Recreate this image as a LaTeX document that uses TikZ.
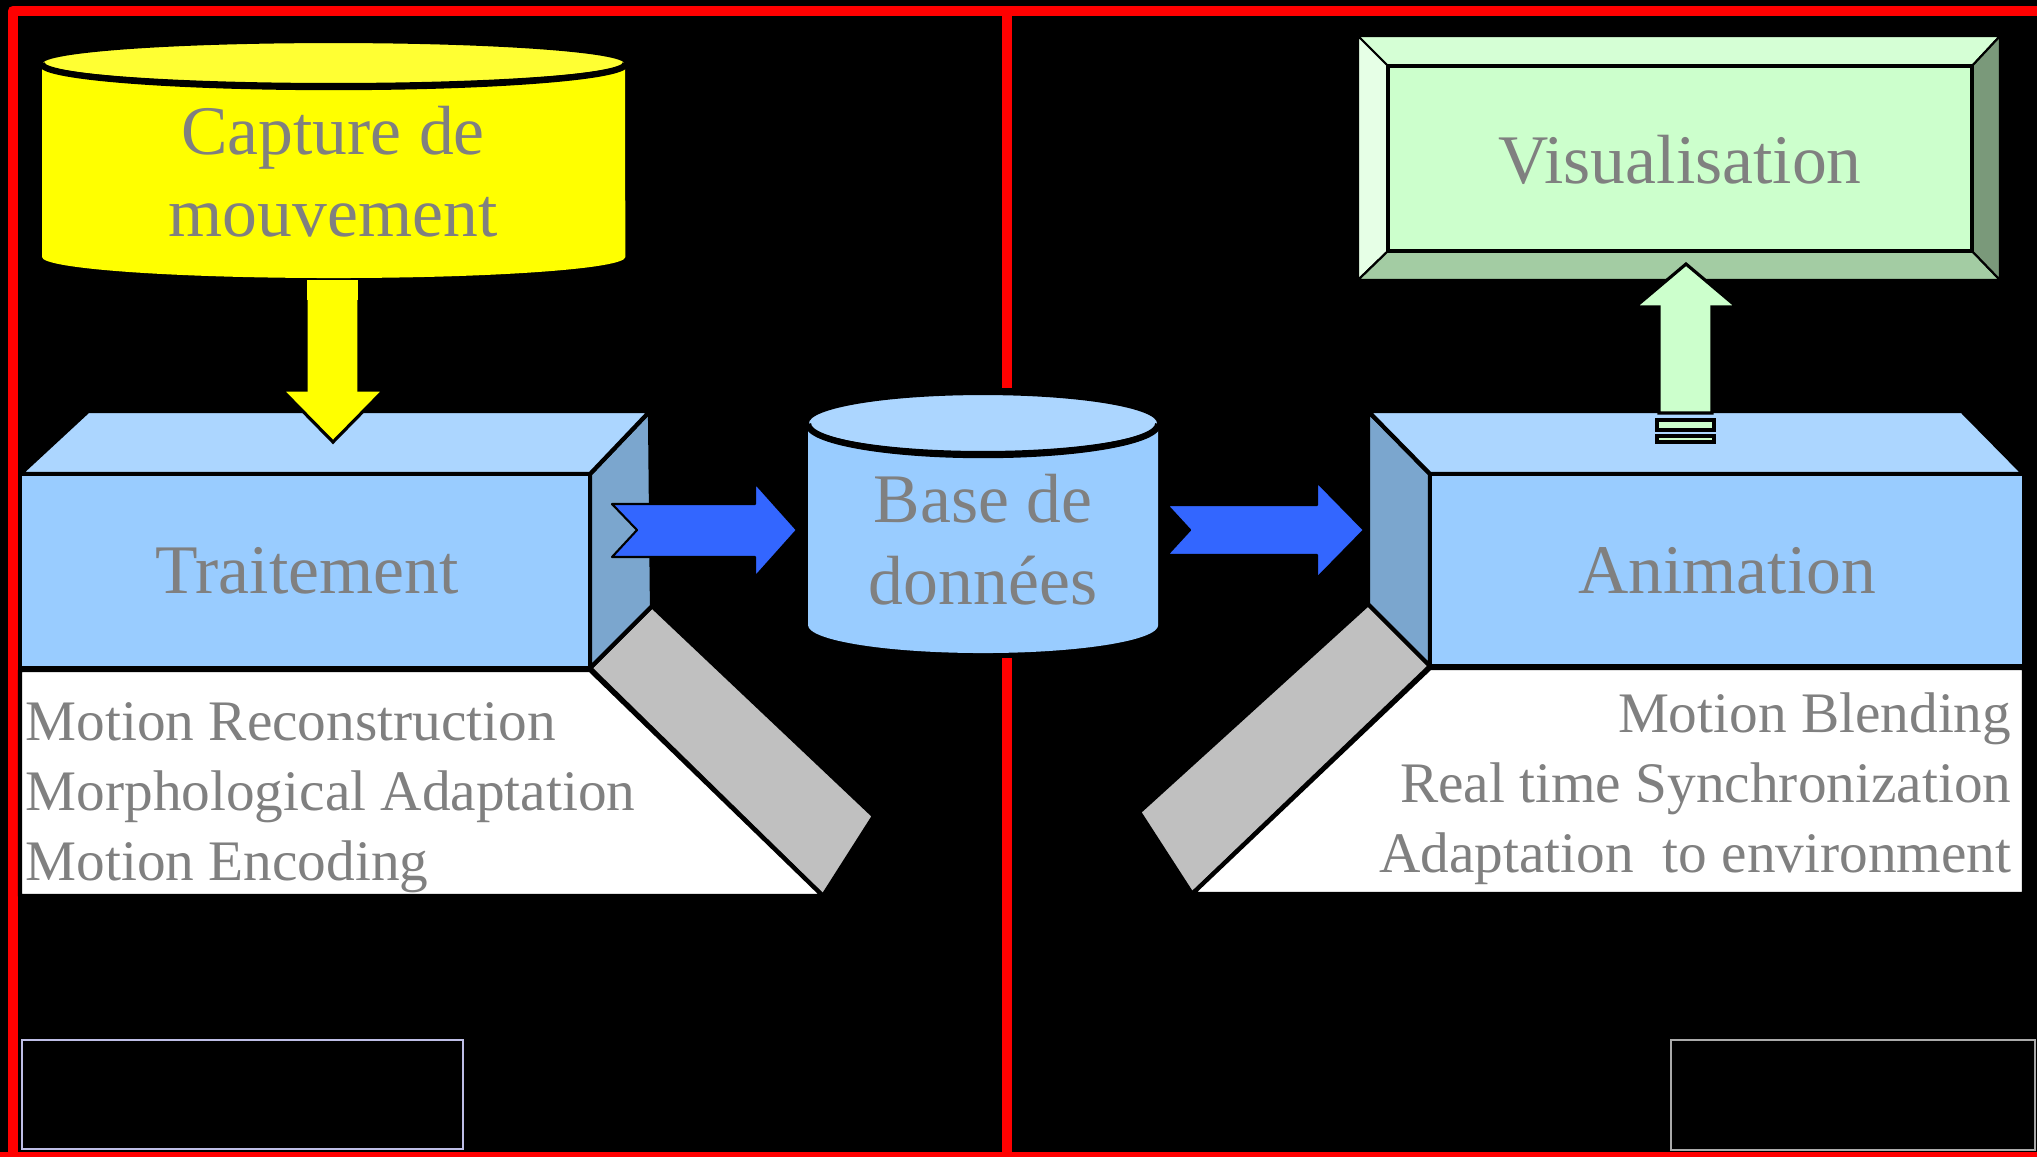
\documentclass[tikz,border=0pt]{standalone}
\usepackage{fontspec}
\setmainfont{Liberation Serif}
\definecolor{bxfront}{RGB}{153,204,255}
\definecolor{bxtop}{RGB}{172,214,255}
\definecolor{bxside}{RGB}{123,166,206}
\definecolor{flapgray}{RGB}{192,192,192}
\definecolor{arrblue}{RGB}{51,102,255}
\definecolor{capyel}{RGB}{255,255,0}
\definecolor{capyeltop}{RGB}{255,255,51}
\definecolor{txtgray}{RGB}{128,128,128}
\definecolor{vgreen}{RGB}{204,255,204}
\definecolor{vtopc}{RGB}{213,255,213}
\definecolor{vleft}{RGB}{230,255,230}
\definecolor{vbot}{RGB}{163,204,163}
\definecolor{vright}{RGB}{122,153,122}
\definecolor{rectlav}{RGB}{190,190,230}
\definecolor{rectgray}{RGB}{170,170,170}
\begin{document}
\begin{tikzpicture}[x=0.01cm,y=-0.01cm,
  lbl/.style={text=txtgray, font=\fontsize{19.8}{23.4}\selectfont, align=center, inner sep=0pt},
  lst/.style={text=txtgray, font=\fontsize{16.3}{19.9}\selectfont, inner sep=0pt},
  bxline/.style={draw=black, line width=1.2pt, line join=round},
  thinline/.style={draw=black, line width=0.6pt, line join=round},
  redline/.style={draw=red, line width=3.1pt, line join=round}]
% background
\fill[black] (0,0) rectangle (2037,1156);
\useasboundingbox (0,0) rectangle (2037,1156);
% red frame
\draw[redline] (13,1160) -- (13,11) -- (2045,11);
\draw[redline] (0,1157) -- (2045,1157);
\draw[redline] (1007,11) -- (1007,388);
\draw[redline] (1007,658) -- (1007,1160);

% ---- Capture de mouvement cylinder
\fill[capyel] (42,63) -- (42,257) arc[start angle=180,end angle=360,x radius=2.915cm,y radius=0.21cm] -- (625,63) -- cycle;
\filldraw[fill=capyeltop, draw=black, line width=0.6pt] (333.5,63) ellipse[x radius=2.915cm, y radius=0.21cm];
\draw[black, line width=1.8pt] (42,64) arc[start angle=180,end angle=360,x radius=2.915cm,y radius=0.23cm];
\node[lbl] (capture) at (333,172) {Capture de\\mouvement};

% ---- Traitement box
\filldraw[fill=flapgray, bxline] (590,668) -- (652,606) -- (874,816) -- (823,896) -- cycle;
\filldraw[fill=white, bxline] (20,670) -- (590,670) -- (823,896) -- (20,896) -- cycle;
\filldraw[fill=bxside, bxline] (590,474) -- (650,411) -- (652,606) -- (590,668) -- cycle;
\filldraw[fill=bxtop, bxline] (20,474) -- (88,411) -- (650,411) -- (590,474) -- cycle;
\filldraw[fill=bxfront, bxline] (20,474) rectangle (590,668);
\node[lbl, anchor=base] (traitement) at (307,593) {Traitement};
\node[lst, anchor=base west, align=left] (listL) at (25,880) {Motion Reconstruction\\Morphological Adaptation\\Motion Encoding};

% yellow arrow
\filldraw[fill=capyel, draw=black, line width=0.9pt, line join=miter]
  (306,284) -- (359,284) -- (359,390) -- (384,390) -- (333,442) -- (282,390) -- (306,390) -- cycle;
\fill[capyel] (307,280) rectangle (358,300);

% ---- blue arrows
\filldraw[fill=arrblue, thinline] (612,504) -- (755,504) -- (755,483) -- (797,530) -- (755,577) -- (755,557) -- (612,557) -- (637,530) -- cycle;
\filldraw[fill=arrblue, thinline] (1167,505) -- (1317,505) -- (1317,482) -- (1364,530) -- (1317,578) -- (1317,555) -- (1167,555) -- (1190,530) -- cycle;

% ---- Base de donnees cylinder
\fill[bxfront] (808,423) -- (808,625) arc[start angle=180,end angle=360,x radius=1.75cm,y radius=0.28cm] -- (1158,423) -- cycle;
\filldraw[fill=bxtop, draw=black, line width=0.6pt] (983,423) ellipse[x radius=1.75cm, y radius=0.29cm];
\draw[black, line width=1.8pt] (808,424) arc[start angle=180,end angle=360,x radius=1.75cm,y radius=0.31cm];
\node[lbl] (base) at (983,540) {Base de\\données};

% ---- Animation box
\filldraw[fill=flapgray, bxline] (1368,604) -- (1430,666) -- (1192,894) -- (1139,812) -- cycle;
\filldraw[fill=white, bxline] (1430,668) -- (2024,668) -- (2024,894) -- (1192,894) -- cycle;
\filldraw[fill=bxside, bxline] (1368,411) -- (1430,474) -- (1430,666) -- (1368,604) -- cycle;
\filldraw[fill=bxtop, bxline] (1368,411) -- (1962,411) -- (2024,474) -- (1430,474) -- cycle;
\filldraw[fill=bxfront, bxline] (1430,474) rectangle (2024,666);
\node[lbl, anchor=base] (animation) at (1727,593) {Animation};
\node[lst, anchor=base east, align=right] (listR) at (2012,872) {Motion Blending\\Real time Synchronization\\Adaptation\ \ to environment};

% ---- Visualisation bevel box
\filldraw[fill=vtopc, thinline] (1358,36) -- (2000,36) -- (1972,66) -- (1388,66) -- cycle;
\filldraw[fill=vleft, thinline] (1358,36) -- (1388,66) -- (1388,251) -- (1358,280) -- cycle;
\filldraw[fill=vbot, thinline] (1358,280) -- (1388,251) -- (1972,251) -- (2000,280) -- cycle;
\filldraw[fill=vright, thinline] (2000,36) -- (2000,280) -- (1972,251) -- (1972,66) -- cycle;
\filldraw[fill=vgreen, draw=black, line width=1pt] (1388,66) rectangle (1972,251);
\node[lbl, anchor=base] (visu) at (1680,183) {Visualisation};

% green up arrow
\filldraw[fill=vgreen, draw=black, line width=0.9pt, line join=miter]
  (1659,413) -- (1659,307) -- (1635,307) -- (1686,264) -- (1737,307) -- (1712,307) -- (1712,413) -- cycle;
\filldraw[fill=vgreen, draw=black, line width=0.9pt] (1657,420) rectangle (1714,430);
\filldraw[fill=vgreen, draw=black, line width=0.9pt] (1657,436) rectangle (1714,442);

% ---- bottom empty rectangles
\node[draw=rectlav, line width=0.7pt, minimum width=4.41cm, minimum height=1.09cm, inner sep=0pt] (boxL) at (242.5,1094.5) {};
\node[draw=rectgray, line width=0.7pt, minimum width=3.64cm, minimum height=1.10cm, inner sep=0pt] (boxR) at (1853,1095) {};
\end{tikzpicture}
\end{document}
